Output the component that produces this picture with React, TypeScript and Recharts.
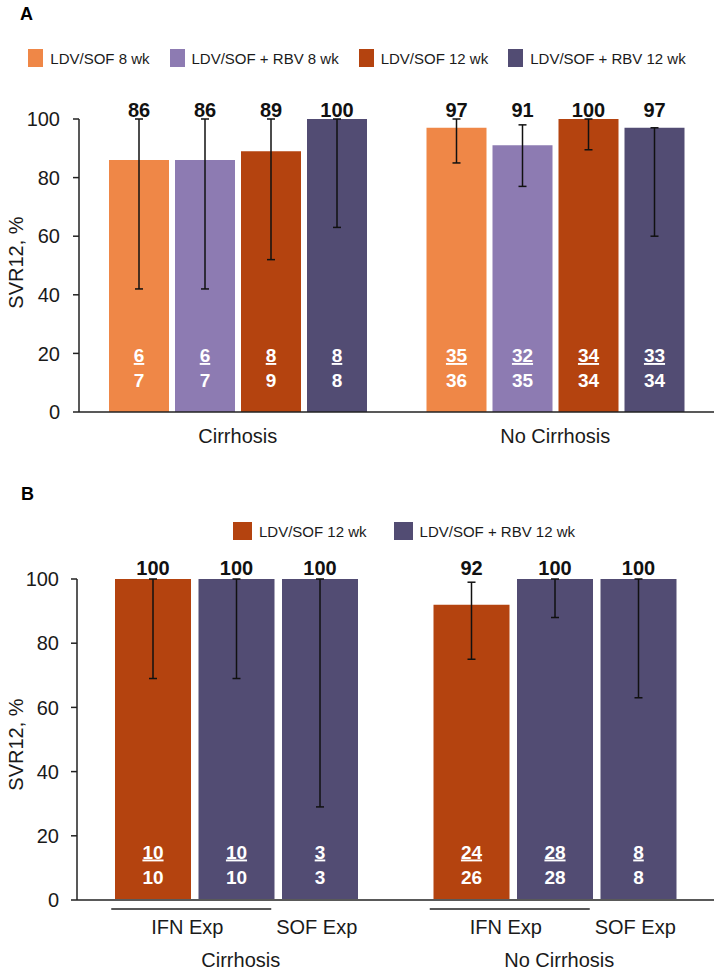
import { BarChart, Bar, XAxis, YAxis, ErrorBar, LabelList } from 'recharts';

const FONT = '"Liberation Sans", Arial, Helvetica, sans-serif';
const TICKS = [0, 20, 40, 60, 80, 100];

// ---- Panel A: by cirrhosis status, 4 regimens
const groupsA = ['Cirrhosis', 'No Cirrhosis'];
const seriesA = ['LDV/SOF 8 wk', 'LDV/SOF + RBV 8 wk', 'LDV/SOF 12 wk', 'LDV/SOF + RBV 12 wk'];
const colorsA = ['#EF8747', '#8D7BB2', '#B4430F', '#524C73'];
const svrA = [[86, 97], [86, 91], [89, 100], [100, 97]];
const ciLowA = [[42, 85], [42, 77], [52, 89.5], [63, 60]];
const ciHighA = [[100, 100], [100, 98], [100, 100], [100, 97]];
const numA = [[6, 35], [6, 32], [8, 34], [8, 33]];
const denA = [[7, 36], [7, 35], [9, 34], [8, 34]];

// ---- Panel B: prior treatment experience, 12 wk regimens
const groupsB = ['Cirrhosis', 'No Cirrhosis'];
const seriesB = ['LDV/SOF 12 wk', 'LDV/SOF + RBV 12 wk', 'LDV/SOF + RBV 12 wk'];
const colorsB = ['#B4430F', '#524C73', '#524C73'];
const subLabelsB = ['IFN Exp', 'SOF Exp'];
const svrB = [[100, 92], [100, 100], [100, 100]];
const ciLowB = [[69, 75], [69, 88], [29, 63]];
const ciHighB = [[100, 99], [100, 100], [100, 100]];
const numB = [[10, 24], [10, 28], [3, 8]];
const denB = [[10, 26], [10, 28], [3, 8]];
const legendB = [0, 1]; // series indexes shown in legend

function buildRows(groups: string[], svr: number[][], lo: number[][], hi: number[][], num: number[][], den: number[][]) {
  return groups.map((g, gi) => {
    const row: any = { group: g };
    svr.forEach((s, si) => {
      row[`v${si}`] = s[gi];
      row[`e${si}`] = [s[gi] - lo[si][gi], hi[si][gi] - s[gi]];
      row[`f${si}`] = `${num[si][gi]}/${den[si][gi]}`;
    });
    return row;
  });
}

const dataA = buildRows(groupsA, svrA, ciLowA, ciHighA, numA, denA);
const dataB = buildRows(groupsB, svrB, ciLowB, ciHighB, numB, denB);

function TopLabel({ x, width, value, baseY }: any) {
  return (
    <text x={x + width / 2} y={baseY} textAnchor="middle" fontSize={20} fontWeight={700} fill="#111" fontFamily={FONT}>
      {value}
    </text>
  );
}

function Fraction({ x, y, width, height, value, numUp, denUp }: any) {
  const [n, d] = String(value).split('/');
  const cx = x + width / 2;
  const bottom = y + height;
  return (
    <g fill="#fff" fontSize={19} fontWeight={700} fontFamily={FONT} textAnchor="middle">
      <text x={cx} y={bottom - numUp} style={{ textDecoration: 'underline' }}>{n}</text>
      <text x={cx} y={bottom - denUp}>{d}</text>
    </g>
  );
}

function yLabel(dy: number) {
  return {
    content: ({ viewBox }: any) => {
      const cx = viewBox.x + 16;
      const cy = viewBox.y + viewBox.height / 2 + dy;
      return (
        <text x={cx} y={cy} transform={`rotate(-90 ${cx} ${cy})`} textAnchor="middle" dominantBaseline="central"
          fontSize={20} fill="#1a1a1a" fontFamily={FONT}>
          SVR12, %
        </text>
      );
    },
  };
}

function TickA({ x, y, payload }: any) {
  return (
    <text x={x} y={y + 31} textAnchor="middle" fontSize={20} fill="#1a1a1a" fontFamily={FONT}>
      {payload.value}
    </text>
  );
}

function TickB({ x, y, payload }: any) {
  return (
    <g fontFamily={FONT} fontSize={20} fill="#1a1a1a" textAnchor="middle">
      <line x1={x - 125} x2={x + 35} y1={y + 9} y2={y + 9} stroke="#595959" strokeWidth={2} />
      <text x={x - 49} y={y + 33.5}>{subLabelsB[0]}</text>
      <text x={x + 80.5} y={y + 33.5}>{subLabelsB[1]}</text>
      <text x={x + 4.5} y={y + 67}>{payload.value}</text>
    </g>
  );
}

function LegendRow({ items, style, sw }: { items: { label: string; color: string }[]; style: any; sw: number }) {
  return (
    <div style={{ position: 'absolute', display: 'flex', alignItems: 'center', fontFamily: FONT, fontSize: 15, color: '#1a1a1a', ...style }}>
      {items.map(it => (
        <div key={it.label} style={{ display: 'flex', alignItems: 'center', gap: 7 }}>
          <span style={{ width: sw, height: 18, background: it.color, display: 'inline-block' }} />
          <span style={{ whiteSpace: 'nowrap' }}>{it.label}</span>
        </div>
      ))}
    </div>
  );
}

export default function App() {
  return (
    <div style={{ position: 'absolute', left: 0, top: 0, width: 714, height: 972, background: '#fff', fontFamily: FONT }}>
      <div style={{ position: 'absolute', left: 20, top: 4, fontSize: 18, fontWeight: 700 }}>A</div>
      <LegendRow
        items={seriesA.map((s, i) => ({ label: s, color: colorsA[i] }))}
        style={{ left: 0, width: 714, top: 49, justifyContent: 'center', gap: 20 }}
        sw={15}
      />

      <div style={{ position: 'absolute', left: 0, top: 0 }}>
        <BarChart width={714} height={460} data={dataA} margin={{ top: 119, right: 0, bottom: 0, left: 0 }}
          barCategoryGap={30} barGap={6}>
          <XAxis dataKey="group" height={48} tickSize={0} tickMargin={0} tickLine={false}
            axisLine={{ stroke: '#222', strokeWidth: 1.5 }} tick={<TickA />} />
          <YAxis width={79} domain={[0, 100]} ticks={TICKS} tickSize={6} tickMargin={13}
            axisLine={{ stroke: '#222', strokeWidth: 1.5 }} tickLine={{ stroke: '#222', strokeWidth: 1.5 }}
            tick={{ fontSize: 20, fill: '#1a1a1a', fontFamily: FONT }} label={yLabel(-3)} />
          {seriesA.map((s, si) => (
            <Bar key={s} dataKey={`v${si}`} name={s} fill={colorsA[si]} isAnimationActive={false}>
              <ErrorBar dataKey={`e${si}`} width={4} strokeWidth={1.5} stroke="#111" direction="y" isAnimationActive={false} />
              <LabelList dataKey={`v${si}`} content={(p: any) => <TopLabel {...p} baseY={117} />} />
              <LabelList dataKey={`f${si}`} content={(p: any) => <Fraction {...p} numUp={50} denUp={25.5} />} />
            </Bar>
          ))}
        </BarChart>
      </div>

      <div style={{ position: 'absolute', left: 21, top: 484, fontSize: 18, fontWeight: 700 }}>B</div>
      <LegendRow
        items={legendB.map(i => ({ label: seriesB[i], color: colorsB[i] }))}
        style={{ left: 233, top: 522, gap: 27 }}
        sw={19}
      />

      <div style={{ position: 'absolute', left: 0, top: 470 }}>
        <BarChart width={714} height={502} data={dataB} margin={{ top: 109, right: 0, bottom: 0, left: 0 }}
          barCategoryGap={38} barGap={7.5}>
          <XAxis dataKey="group" height={72} tickSize={0} tickMargin={0} tickLine={false}
            axisLine={{ stroke: '#595959', strokeWidth: 2 }} tick={<TickB />} />
          <YAxis width={77} domain={[0, 100]} ticks={TICKS} tickSize={6} tickMargin={12}
            axisLine={{ stroke: '#222', strokeWidth: 1.5 }} tickLine={{ stroke: '#222', strokeWidth: 1.5 }}
            tick={{ fontSize: 20, fill: '#1a1a1a', fontFamily: FONT }} label={yLabel(5)} />
          {seriesB.map((s, si) => (
            <Bar key={si} dataKey={`v${si}`} name={s} fill={colorsB[si]} isAnimationActive={false}>
              <ErrorBar dataKey={`e${si}`} width={4} strokeWidth={1.5} stroke="#111" direction="y" isAnimationActive={false} />
              <LabelList dataKey={`v${si}`} content={(p: any) => <TopLabel {...p} baseY={104.5} />} />
              <LabelList dataKey={`f${si}`} content={(p: any) => <Fraction {...p} numUp={41.5} denUp={16.5} />} />
            </Bar>
          ))}
        </BarChart>
      </div>
    </div>
  );
}
